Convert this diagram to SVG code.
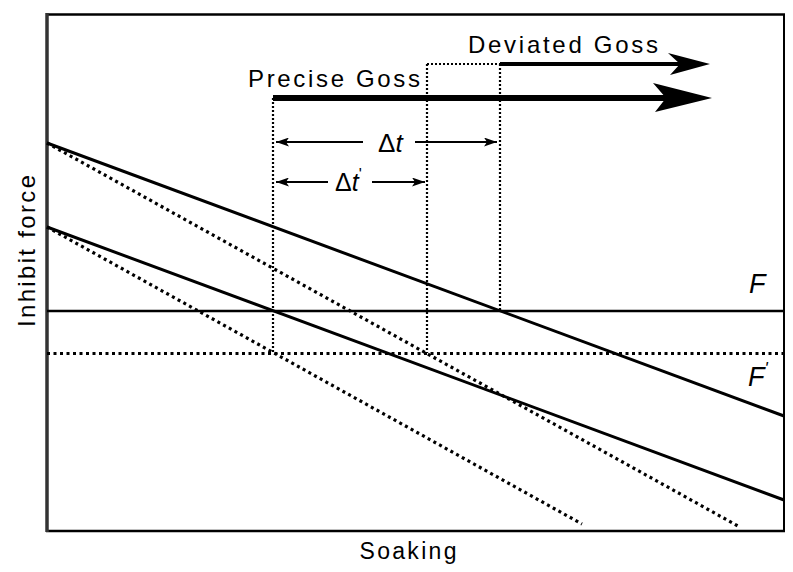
<svg xmlns="http://www.w3.org/2000/svg" width="793" height="572" viewBox="0 0 793 572">
<defs>
<style>
.lbl{font-family:"Liberation Sans",Arial,sans-serif;fill:#000}
.solid{stroke:#000;fill:none;stroke-width:3}
.dot{stroke:#000;fill:none;stroke-width:3.2;stroke-dasharray:3 3.5}
.vdot{stroke:#000;fill:none;stroke-width:2.2;stroke-dasharray:2 2}
</style>
<marker id="ah" markerWidth="13" markerHeight="9" refX="13" refY="4.5" orient="auto" markerUnits="userSpaceOnUse">
<path d="M0,0 L13,4.5 L0,9 L3,4.5 Z" fill="#000"/>
</marker>
</defs>
<rect width="793" height="572" fill="#fff"/>
<g id="frame">
<line x1="46" y1="14.5" x2="785" y2="14.5" stroke="#000" stroke-width="2.5"/>
<line x1="784" y1="14" x2="784" y2="532" stroke="#000" stroke-width="2"/>
<line x1="46" y1="531" x2="785" y2="531" stroke="#000" stroke-width="2.5"/>
<line x1="47" y1="13" x2="47" y2="532" stroke="#333" stroke-width="3.5"/>
</g>
<g id="connectors">
<line class="solid" x1="47" y1="143" x2="784" y2="416"/>
<line class="solid" x1="47" y1="227" x2="784" y2="500"/>
<line class="dot" x1="47" y1="143" x2="738" y2="526"/>
<line class="dot" x1="47" y1="227" x2="582" y2="524"/>
<line x1="47" y1="311" x2="784" y2="311" stroke="#000" stroke-width="2.5"/>
<line class="dot" x1="47" y1="353.5" x2="784" y2="353.5"/>
<line class="vdot" x1="273" y1="98" x2="273" y2="353"/>
<line class="vdot" x1="427" y1="64" x2="427" y2="353"/>
<line class="vdot" x1="500" y1="64" x2="500" y2="311"/>
<line class="vdot" x1="427" y1="64" x2="500" y2="64"/>
<line x1="500" y1="64" x2="680" y2="64" stroke="#000" stroke-width="4"/>
<path d="M668,53 L710,64 L670,75 L680,64 Z" fill="#000"/>
<line x1="273" y1="98" x2="666" y2="98" stroke="#000" stroke-width="6"/>
<path d="M653,83 L712,98 L655,112 L666,98 Z" fill="#000"/>
<line x1="363" y1="142" x2="276" y2="142" stroke="#000" stroke-width="2.2" marker-end="url(#ah)"/>
<line x1="415" y1="142" x2="497" y2="142" stroke="#000" stroke-width="2.2" marker-end="url(#ah)"/>
<line x1="328" y1="182" x2="276" y2="182" stroke="#000" stroke-width="2.2" marker-end="url(#ah)"/>
<line x1="372" y1="182" x2="425" y2="182" stroke="#000" stroke-width="2.2" marker-end="url(#ah)"/>
</g>
<g id="labels">
<text class="lbl" x="248" y="87" font-size="24" textLength="172" lengthAdjust="spacing">Precise Goss</text>
<text class="lbl" x="468" y="53" font-size="24" textLength="190" lengthAdjust="spacing">Deviated Goss</text>
<text class="lbl" x="378" y="152" font-size="26">Δ<tspan font-style="italic">t</tspan></text>
<text class="lbl" x="335" y="191" font-size="25">Δ<tspan font-style="italic">t</tspan><tspan font-size="16" dy="-11">'</tspan></text>
<text class="lbl" x="749" y="293" font-size="27" font-style="italic">F</text>
<text class="lbl" x="748" y="386" font-size="27" font-style="italic">F<tspan font-size="17" dy="-12">'</tspan></text>
<text class="lbl" x="408" y="559" font-size="23" text-anchor="middle" textLength="97" lengthAdjust="spacing">Soaking</text>
<text class="lbl" transform="translate(35,251) rotate(-90)" font-size="24" text-anchor="middle" textLength="152" lengthAdjust="spacing">Inhibit force</text>
</g>
</svg>
